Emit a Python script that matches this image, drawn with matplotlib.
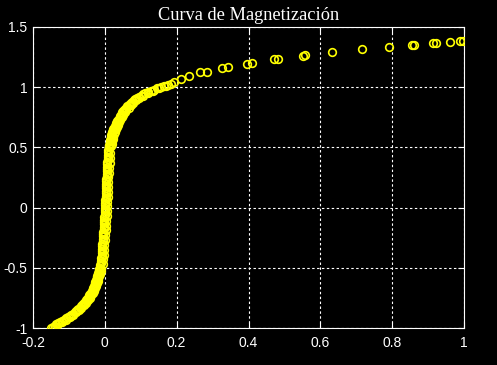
import numpy as np
import matplotlib.pyplot as plt

plt.rcParams['axes.unicode_minus'] = False

# campo (x) y magnetizacion (y) leidos de la figura
# rama inferior
h_low = [-0.150, -0.145, -0.140, -0.135, -0.130, -0.125, -0.120, -0.114, -0.108, -0.103,
         -0.098, -0.093, -0.088, -0.084, -0.081, -0.077, -0.074, -0.070, -0.067, -0.064,
         -0.061, -0.058, -0.055, -0.052, -0.050, -0.047, -0.045, -0.043, -0.041, -0.039,
         -0.037, -0.035, -0.034, -0.032, -0.031, -0.029, -0.028, -0.027, -0.026, -0.025,
         -0.024, -0.023, -0.022, -0.021, -0.020, -0.019, -0.018, -0.017, -0.016, -0.015,
         -0.014]
m_low = [-1.00, -0.99, -0.98, -0.97, -0.96, -0.95, -0.94, -0.93, -0.92, -0.91,
         -0.90, -0.89, -0.88, -0.87, -0.86, -0.85, -0.84, -0.83, -0.82, -0.81,
         -0.80, -0.79, -0.78, -0.77, -0.76, -0.75, -0.74, -0.73, -0.72, -0.71,
         -0.70, -0.69, -0.68, -0.67, -0.66, -0.65, -0.64, -0.63, -0.62, -0.61,
         -0.60, -0.59, -0.58, -0.57, -0.56, -0.55, -0.54, -0.53, -0.52, -0.51,
         -0.50]
h_low2 = [-0.140, -0.130, -0.120, -0.109, -0.098, -0.088, -0.079, -0.072, -0.065, -0.059,
          -0.053, -0.047, -0.042, -0.038, -0.034, -0.030, -0.027, -0.024, -0.022, -0.020,
          -0.018, -0.016, -0.014, -0.012, -0.010]
m_low2 = [-0.99, -0.97, -0.95, -0.93, -0.91, -0.89, -0.87, -0.85, -0.83, -0.81,
          -0.79, -0.77, -0.75, -0.73, -0.71, -0.69, -0.67, -0.65, -0.63, -0.61,
          -0.59, -0.57, -0.55, -0.53, -0.51]

# tramo casi vertical
h_mid = [-0.013, -0.012, -0.011, -0.010, -0.009, -0.0085, -0.008, -0.0075, -0.007, -0.0065,
         -0.006, -0.0055, -0.005, -0.0045, -0.004, -0.0035, -0.003, -0.0025, -0.002, -0.0015,
         -0.001, -0.0005, 0.000, 0.000, 0.000, 0.0005, 0.001, 0.0015, 0.002, 0.002,
         0.0025, 0.003, 0.003, 0.0035, 0.004, 0.004, 0.0045, 0.005, 0.005, 0.0055,
         0.006, 0.006, 0.0065, 0.007, 0.0075, 0.008, 0.0085, 0.009, 0.010]
m_mid = [-0.48, -0.46, -0.44, -0.42, -0.40, -0.38, -0.36, -0.34, -0.32, -0.30,
         -0.28, -0.26, -0.24, -0.22, -0.20, -0.18, -0.16, -0.14, -0.12, -0.10,
         -0.08, -0.06, -0.04, -0.02, 0.00, 0.02, 0.04, 0.06, 0.08, 0.10,
         0.12, 0.14, 0.16, 0.18, 0.20, 0.22, 0.24, 0.26, 0.28, 0.30,
         0.32, 0.34, 0.36, 0.38, 0.40, 0.42, 0.44, 0.46, 0.48]
h_mid2 = [-0.006, -0.004, -0.003, -0.002, -0.001, 0.000, 0.001, 0.002, 0.003, 0.004,
          0.005, 0.006, 0.006, 0.007, 0.008, 0.008, 0.009, 0.010, 0.010, 0.011,
          0.012, 0.013, 0.014, 0.015]
m_mid2 = [-0.47, -0.43, -0.39, -0.35, -0.31, -0.27, -0.23, -0.19, -0.15, -0.11,
          -0.07, -0.03, 0.01, 0.05, 0.09, 0.13, 0.17, 0.21, 0.25, 0.29,
          0.33, 0.37, 0.41, 0.45]

# codo superior
h_knee = [0.011, 0.012, 0.012, 0.013, 0.014, 0.015, 0.015, 0.016, 0.017, 0.018,
          0.018, 0.019, 0.020, 0.021, 0.022, 0.024, 0.025, 0.027, 0.028, 0.030,
          0.031, 0.033, 0.035, 0.037, 0.039, 0.041, 0.043, 0.045, 0.047, 0.049,
          0.051, 0.054, 0.057, 0.060, 0.063, 0.066, 0.069, 0.073, 0.077, 0.081,
          0.085, 0.090, 0.095, 0.101, 0.107, 0.113, 0.120, 0.128, 0.136, 0.145,
          0.155, 0.165, 0.175, 0.184, 0.192]
m_knee = [0.50, 0.51, 0.52, 0.53, 0.54, 0.55, 0.56, 0.57, 0.58, 0.59,
          0.60, 0.61, 0.62, 0.63, 0.64, 0.65, 0.66, 0.67, 0.68, 0.69,
          0.70, 0.71, 0.72, 0.73, 0.74, 0.75, 0.76, 0.77, 0.78, 0.79,
          0.80, 0.81, 0.82, 0.83, 0.84, 0.85, 0.86, 0.87, 0.88, 0.89,
          0.90, 0.91, 0.92, 0.93, 0.94, 0.95, 0.96, 0.97, 0.98, 0.99,
          1.00, 1.01, 1.02, 1.03, 1.04]
h_knee2 = [0.018, 0.019, 0.021, 0.022, 0.024, 0.025, 0.027, 0.030, 0.033, 0.036,
           0.039, 0.043, 0.047, 0.051, 0.055, 0.060, 0.066, 0.072, 0.079, 0.087,
           0.096, 0.107, 0.119, 0.134, 0.151, 0.171]
m_knee2 = [0.51, 0.53, 0.55, 0.57, 0.59, 0.61, 0.63, 0.65, 0.67, 0.69,
           0.71, 0.73, 0.75, 0.77, 0.79, 0.81, 0.83, 0.85, 0.87, 0.89,
           0.91, 0.93, 0.95, 0.97, 0.99, 1.01]

# saturacion
h_sat = [0.211, 0.234, 0.264, 0.284, 0.325, 0.342, 0.395, 0.409, 0.472, 0.481,
         0.553, 0.556, 0.633, 0.715, 0.791, 0.855, 0.862, 0.914, 0.921, 0.961,
         0.989, 0.998]
m_sat = [1.068, 1.093, 1.125, 1.129, 1.162, 1.168, 1.195, 1.203, 1.234, 1.234,
         1.262, 1.270, 1.292, 1.317, 1.336, 1.350, 1.350, 1.370, 1.370, 1.375,
         1.384, 1.384]

x_ticks = [-0.2, 0, 0.2, 0.4, 0.6, 0.8, 1]
x_labels = ["-0.2", "0", "0.2", "0.4", "0.6", "0.8", "1"]
y_ticks = [-1, -0.5, 0, 0.5, 1, 1.5]
y_labels = ["-1", "-0.5", "0", "0.5", "1", "1.5"]

h = np.array(h_low + h_low2 + h_mid + h_mid2 + h_knee + h_knee2 + h_sat)
m = np.array(m_low + m_low2 + m_mid + m_mid2 + m_knee + m_knee2 + m_sat)

fig = plt.figure(figsize=(4.97, 3.65), dpi=100, facecolor="black")
ax = fig.add_axes([33 / 497, 1 - 328 / 365, 431 / 497, 301 / 365], facecolor="black")

ax.plot(h, m, "o", mfc="none", mec="yellow", ms=5.5, mew=1.2, zorder=3)

ax.set_xlim(-0.2, 1)
ax.set_ylim(-1, 1.5)
ax.set_xticks(x_ticks, x_labels)
ax.set_yticks(y_ticks, y_labels)
ax.tick_params(colors="white", direction="in", length=4, top=True, right=True,
               labelsize=10)
ax.tick_params(axis="x", pad=5.5)
ax.tick_params(axis="y", pad=4)
for lab in ax.get_xticklabels() + ax.get_yticklabels():
    lab.set_fontfamily("Liberation Sans")
for s in ax.spines.values():
    s.set_color("white")
ax.grid(True, color="white", linestyle=(0, (2.2, 2.2)), linewidth=0.8)

ax.set_title("Curva de Magnetización", color="white", fontsize=13.2,
             fontfamily="Liberation Serif", pad=5)

fig.savefig("out.png", dpi=100, facecolor="black")
